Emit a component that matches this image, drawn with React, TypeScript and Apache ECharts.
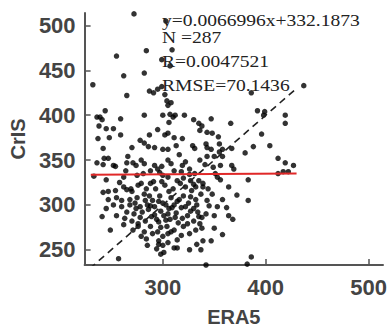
import React, { useEffect, useRef } from "react";
import * as echarts from "echarts";

// ERA5 (x) vs CrIS (y) samples
const points: [number, number][] = [
  // upper part
  [272, 513], [255, 466], [284, 472], [299, 462], [309, 473], [307, 455], [262, 444], [282, 447],
  [232, 434], [265, 422], [287, 427], [291, 425], [295, 429], [299, 432], [302, 423], [304, 416],
  [308, 414], [303, 505], [386, 425], [437, 433], [392, 405], [399, 404], [398, 400], [419, 400],
  [305, 411],
  // 380-410
  [244, 405], [236, 398], [239, 398], [241, 395], [238, 388], [245, 385], [252, 385], [259, 396],
  [282, 400], [300, 400], [307, 401], [310, 398], [312, 400], [306, 392], [321, 400], [330, 395],
  [335, 391], [338, 388], [347, 396], [366, 391], [419, 391], [336, 383], [343, 381], [348, 380],
  [354, 376], [396, 379],
  // 360-380
  [237, 374], [248, 375], [259, 378], [278, 372], [282, 369], [287, 378], [295, 384], [302, 378],
  [305, 380], [311, 375], [319, 374], [329, 366], [242, 363], [270, 364], [286, 365], [292, 364],
  [300, 362], [305, 362], [313, 366], [316, 356], [331, 363], [342, 368], [343, 364], [347, 362],
  [355, 368], [358, 362], [355, 359], [367, 363], [380, 358], [388, 365], [404, 366],
  // 335-360
  [247, 352], [266, 354], [343, 354], [350, 354], [358, 354], [412, 352], [419, 347], [242, 345],
  [254, 343], [265, 347], [271, 347], [274, 344], [279, 350], [282, 346], [292, 344], [295, 340],
  [299, 343], [305, 350], [308, 346], [319, 344], [322, 348], [326, 340], [336, 350], [341, 345],
  [349, 342], [356, 344], [367, 344], [369, 340], [427, 344], [422, 337], [417, 337], [412, 335],
  [236, 347], [243, 352], [252, 344],
  // 315-335
  [233, 332], [245, 328], [262, 331], [275, 333], [281, 335], [300, 333], [305, 331], [326, 334],
  [331, 335], [351, 335], [353, 331], [356, 328], [383, 328], [330, 323], [332, 320], [328, 316],
  [339, 324], [339, 320], [364, 320], [279, 324], [288, 324], [291, 326], [302, 322], [306, 315],
  [317, 324], [322, 320],
  // 300-320
  [247, 315], [254, 316], [262, 320], [265, 317], [270, 315], [372, 311], [383, 305], [332, 306],
  [343, 305], [275, 308], [282, 312], [290, 305], [297, 310], [300, 302], [308, 308], [314, 304],
  [320, 310], [325, 302], [260, 305], [268, 300], [285, 300], [255, 308], [242, 314],
  // 280-300
  [241, 287], [255, 288], [265, 292], [272, 290], [278, 286], [286, 295], [292, 289], [298, 293],
  [305, 290], [312, 286], [318, 297], [324, 288], [335, 287], [338, 286], [350, 288], [364, 288],
  [368, 284], [245, 296], [260, 298], [283, 282], [296, 281], [303, 283], [309, 297], [330, 296],
  [345, 299], [315, 280], [288, 299],
  // 260-280
  [249, 272], [271, 272], [279, 265], [338, 274], [350, 274], [358, 267], [314, 261], [288, 276],
  [295, 270], [300, 265], [304, 276], [308, 270], [320, 276], [326, 268], [332, 272], [284, 262],
  [296, 260], [262, 278], [276, 279],
  // 233-260
  [257, 240], [311, 252], [333, 256], [339, 260], [347, 260], [386, 242], [382, 234], [342, 233],
  [294, 251], [296, 256], [298, 245], [301, 247], [314, 252], [326, 250], [337, 250],
  // dense core
  [268, 306], [273, 302], [278, 298], [283, 305], [287, 310], [292, 298], [296, 304], [303, 300],
  [306, 296], [311, 300], [316, 306], [322, 298], [327, 309], [333, 300], [337, 312], [280, 292],
  [289, 287], [294, 284], [301, 288], [307, 284], [313, 291], [319, 285], [327, 293], [334, 292],
  [263, 285], [270, 282], [276, 276], [282, 270], [290, 268], [298, 275], [305, 268], [311, 272],
  [318, 266], [324, 279], [330, 282], [336, 279], [274, 296], [269, 318], [276, 322], [284, 318],
  [293, 318], [299, 326], [310, 318], [314, 327], [320, 330], [327, 327], [335, 327], [258, 325],
  [252, 300], [247, 306], [264, 338], [288, 338], [297, 336], [311, 338], [318, 337], [344, 318],
  [348, 312], [353, 298], [358, 306], [362, 297], [342, 290], [300, 255], [305, 258], [285, 255],
];

const xTicks = [300, 400, 500];
const yTicks = [250, 300, 350, 400, 450, 500];
const xRange = [224, 514];
const yRange = [233, 514];

const slope = 0.0066996;
const intercept = 332.1873;
const fitXRange = [230, 430];
const oneToOneRange = [229, 428];

const statLines = ["y=0.0066996x+332.1873", "N =287", "R=0.0047521", "RMSE=70.1436"];
const statTops = [12, 29, 53, 77];

export default function App() {
  const ref = useRef<HTMLDivElement>(null);

  useEffect(() => {
    if (!ref.current) return;
    const chart = echarts.init(ref.current, undefined, { renderer: "svg" });
    const labelStyle = {
      fontSize: 22,
      fontWeight: "bold" as const,
      color: "#444",
      fontFamily: "Liberation Sans, Arial, sans-serif",
    };
    const axisLine = { show: true, lineStyle: { color: "#555", width: 2 } };
    chart.setOption({
      animation: false,
      backgroundColor: "#fff",
      grid: { left: 81, right: 8, top: 13, bottom: 59 },
      xAxis: {
        type: "value",
        min: xRange[0],
        max: xRange[1],
        axisLine,
        axisTick: { show: true, inside: true, length: 6, customValues: xTicks, lineStyle: { color: "#555", width: 1.5 } },
        axisLabel: { ...labelStyle, customValues: xTicks, margin: 11 },
        splitLine: { show: false },
        name: "ERA5",
        nameLocation: "middle",
        nameGap: 42,
        nameTextStyle: { fontSize: 20, fontWeight: "bold", color: "#444", fontFamily: "Liberation Sans, Arial, sans-serif" },
      },
      yAxis: {
        type: "value",
        min: yRange[0],
        max: yRange[1],
        axisLine,
        axisTick: { show: true, inside: true, length: 6, customValues: yTicks, lineStyle: { color: "#555", width: 1.5 } },
        axisLabel: { ...labelStyle, customValues: yTicks, margin: 9 },
        splitLine: { show: false },
        name: "CrIS",
        nameLocation: "middle",
        nameGap: 52,
        nameTextStyle: { fontSize: 20, fontWeight: "bold", color: "#444", fontFamily: "Liberation Sans, Arial, sans-serif" },
      },
      series: [
        {
          type: "scatter",
          data: points,
          symbol: "circle",
          symbolSize: 5.5,
          itemStyle: { color: "#000" },
          z: 2,
        },
        {
          type: "line",
          data: oneToOneRange.map((v) => [v, v]),
          symbol: "none",
          lineStyle: { color: "#222", width: 1.6, type: [7, 5] },
          z: 3,
        },
        {
          type: "line",
          data: fitXRange.map((x) => [x, slope * x + intercept]),
          symbol: "none",
          lineStyle: { color: "#e02828", width: 2 },
          z: 4,
        },
      ],
      graphic: statLines.map((t, i) => ({
        type: "text",
        left: 162,
        top: statTops[i],
        scaleX: 1.15,
        z: 10,
        style: {
          text: t,
          fontSize: 17,
          lineHeight: 17,
          fill: "#222",
          fontFamily: "Liberation Serif, Times New Roman, serif",
        },
      })),
    });
    return () => chart.dispose();
  }, []);

  return (
    <div
      ref={ref}
      style={{ position: "fixed", left: 0, top: 0, width: 391, height: 332, background: "#fff" }}
    />
  );
}
